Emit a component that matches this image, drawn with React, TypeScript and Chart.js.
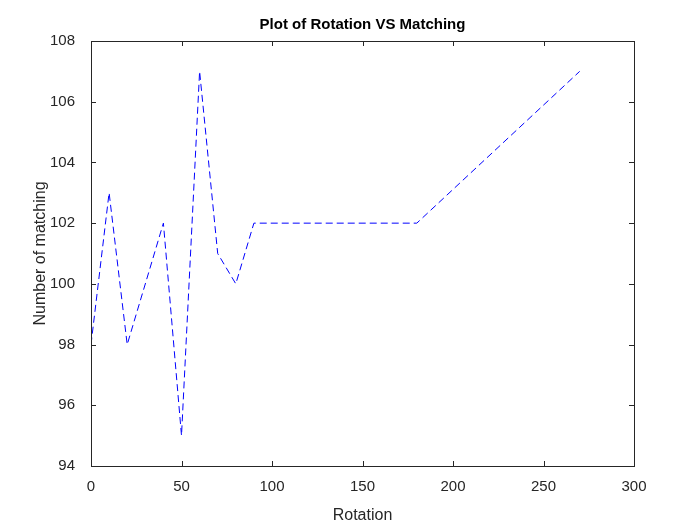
import { useEffect, useRef } from 'react';
import Chart from 'chart.js/auto';

const rotation = [0, 10, 20, 40, 50, 60, 70, 80, 90, 180, 270];
const matching = [98, 103, 98, 102, 95, 107, 101, 100, 102, 102, 107];
const xTicks = [0, 50, 100, 150, 200, 250, 300];
const yTicks = [94, 96, 98, 100, 102, 104, 106, 108];

const FONT = '"Liberation Sans", Arial, sans-serif';

const boxPlugin = {
  id: 'box',
  afterDraw(chart: any) {
    const { ctx, chartArea: a, scales } = chart;
    ctx.save();
    ctx.strokeStyle = '#262626';
    ctx.lineWidth = 1;
    ctx.strokeRect(a.left + 0.5, a.top + 0.5, a.right - a.left, a.bottom - a.top);
    ctx.beginPath();
    xTicks.forEach((v) => {
      const x = Math.round(scales.x.getPixelForValue(v)) + 0.5;
      ctx.moveTo(x, a.bottom); ctx.lineTo(x, a.bottom - 5);
      ctx.moveTo(x, a.top); ctx.lineTo(x, a.top + 5);
    });
    yTicks.forEach((v) => {
      const y = Math.round(scales.y.getPixelForValue(v)) + 0.5;
      ctx.moveTo(a.left, y); ctx.lineTo(a.left + 5, y);
      ctx.moveTo(a.right, y); ctx.lineTo(a.right - 5, y);
    });
    ctx.stroke();
    ctx.fillStyle = '#000';
    ctx.font = `bold 15px ${FONT}`;
    ctx.textAlign = 'center';
    ctx.textBaseline = 'middle';
    ctx.fillText('Plot of Rotation VS Matching', (a.left + a.right) / 2, 25);
    ctx.restore();
  },
};

const App = () => {
  const ref = useRef<HTMLCanvasElement | null>(null);

  useEffect(() => {
    if (!ref.current) return;
    const chart = new Chart(ref.current, {
      type: 'line',
      data: {
        datasets: [{
          data: rotation.map((x, i) => ({ x, y: matching[i] })),
          borderColor: '#0000ff',
          borderWidth: 1,
          borderDash: [7, 4],
          pointRadius: 0,
          tension: 0,
          fill: false,
        }],
      },
      options: {
        animation: false,
        responsive: false,
        layout: { padding: { top: 41, right: 66, left: 31, bottom: 0 } },
        plugins: { legend: { display: false }, tooltip: { enabled: false } },
        scales: {
          x: {
            type: 'linear', min: 0, max: 300,
            grid: { display: false },
            border: { display: false },
            afterBuildTicks: (s: any) => { s.ticks = xTicks.map((v) => ({ value: v })); },
            afterFit: (s: any) => { s.height = 59; },
            ticks: { color: '#262626', font: { family: FONT, size: 15 }, padding: 4, maxRotation: 0 },
            title: { display: true, text: 'Rotation', color: '#262626', font: { family: FONT, size: 16 }, padding: { top: 0, bottom: 0 } },
          },
          y: {
            min: 94, max: 108,
            grid: { display: false },
            border: { display: false },
            afterBuildTicks: (s: any) => { s.ticks = yTicks.map((v) => ({ value: v })); },
            afterFit: (s: any) => { s.width = 60; },
            ticks: { color: '#262626', font: { family: FONT, size: 15 }, padding: 8 },
            title: { display: true, text: 'Number of matching', color: '#262626', font: { family: FONT, size: 16 }, padding: 0 },
          },
        },
      },
      plugins: [boxPlugin],
    });
    return () => chart.destroy();
  }, []);

  return (
    <div style={{ position: 'fixed', left: 0, top: 0, width: 700, height: 525, background: '#fff' }}>
      <canvas ref={ref} width={700} height={525}></canvas>
    </div>
  );
};

export default App;
